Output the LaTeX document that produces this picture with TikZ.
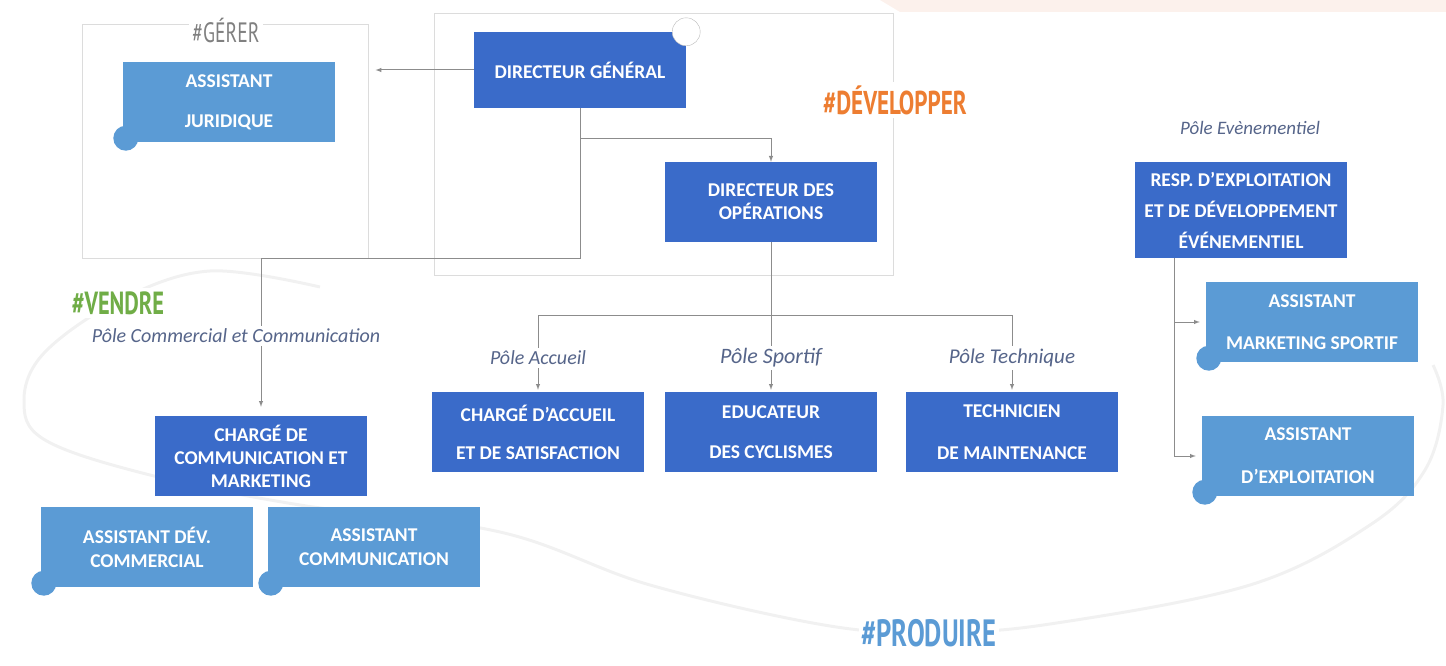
\documentclass[tikz,border=0pt]{standalone}
\usepackage{fontspec}
\setmainfont{Carlito}
\newfontfamily\tagfont[FakeStretch=0.7]{PT Sans}
\definecolor{dblue}{HTML}{3A6BC9}
\definecolor{lblue}{HTML}{5B9BD5}
\definecolor{linegray}{HTML}{8C8C8C}
\definecolor{framegray}{HTML}{DCDCDC}
\definecolor{polegray}{HTML}{56658A}
\definecolor{orangetag}{HTML}{ED7D31}
\definecolor{greentag}{HTML}{70AD47}
\definecolor{peach}{HTML}{FCF1EC}
\begin{document}
\begin{tikzpicture}[x=1pt, y=-1pt, >=latex,
      box/.style={rectangle, fill=dblue, text=white, minimum width=212pt, minimum height=80pt, inner sep=2pt, align=center, font=\fontsize{19.5}{23}\selectfont\bfseries},
      lbox/.style={box, fill=lblue},
      pole/.style={fill=white, inner sep=3pt, text=polegray, font=\fontsize{20}{24}\selectfont\itshape},
      tag/.style={fill=white, inner sep=3pt, font=\tagfont\bfseries\fontsize{32}{34}\selectfont},
      zone/.style={draw=framegray, line width=1pt, rectangle},
      link/.style={draw=linegray, line width=1pt}]
            \useasboundingbox (0,0) rectangle (1446,666);
            \fill[peach] (880,0) -- (1446,0) -- (1446,12) -- (900,12) -- cycle;
%           big arc round the poles
            \draw[gray!11, line width=3pt] plot[smooth, tension=0.6] coordinates {(320,287) (210,271) (120,300) (45,352) (24,400) (45,440) (150,475) (300,505) (500,532) (650,585) (830,626) (940,632) (1050,624) (1250,585) (1370,525) (1425,470) (1443,405) (1433,365)};
            \node[zone, minimum width=286pt, minimum height=233pt] (10) at (225,141.5) {};
            \node[zone, minimum width=459pt, minimum height=261pt] (20) at (663.5,144.5) {};
            \node[box, minimum height=76pt] (1) at (580,70) {DIRECTEUR GÉNÉRAL};
            \node[circle, draw=linegray!60, fill=white, minimum size=28pt, inner sep=0pt] (7) at (1.north east) {};
            \node[lbox] (11) at (229,102) {ASSISTANT\\[17pt]JURIDIQUE};
            \node[box] (2) at (771,202) {DIRECTEUR DES\\OPÉRATIONS};
            \node[box, minimum height=96pt] (3) at (1241,210) {RESP. D'EXPLOITATION\\[8pt]ET DE DÉVELOPPEMENT\\[8pt]ÉVÉNEMENTIEL};
            \node[lbox] (41) at (1312,322) {ASSISTANT\\[19pt]MARKETING SPORTIF};
            \node[lbox] (42) at (1308,456) {ASSISTANT\\[20pt]D'EXPLOITATION};
            \node[box] (21) at (538,432) {CHARGÉ D'ACCUEIL\\[15pt]ET DE SATISFACTION};
            \node[box] (22) at (771,432) {EDUCATEUR\\[17pt]DES CYCLISMES};
            \node[box] (23) at (1012,432) {TECHNICIEN\\[19pt]DE MAINTENANCE};
            \node[box] (31) at (261,456) {CHARGÉ DE\\COMMUNICATION ET\\MARKETING};
            \node[lbox] (32) at (147,547) {ASSISTANT DÉV.\\[1pt]COMMERCIAL};
            \node[lbox] (33) at (374,547) {ASSISTANT\\[1pt]COMMUNICATION};
            \foreach \n in {11,32,33,41,42} {
                \fill[lblue] ([xshift=3pt, yshift=4pt]\n.south west) circle (12.5);
                \fill[lblue] ([xshift=3pt, yshift=4pt]\n.south west) rectangle ++(12.5,-12.5);
            }
            \draw[link, ->, shorten >=7pt] (1.west) -- (1.west -| 10.east);
            \draw[link, ->] (1.south) -- ++(0,30) -| (2.north);
            \draw[link, ->, shorten >=9pt] (1.south) -- ++(0,150) -| (31.north);
            \draw[link, ->, shorten >=2pt] (2.south) -- ++(0,73) -| (21.north);
            \draw[link, ->, shorten >=2pt] (2.south) -- (22.north);
            \draw[link, ->, shorten >=2pt] (2.south) -- ++(0,73) -| (23.north);
            \draw[link, ->, shorten >=6pt] ([xshift=-67pt]3.south) |- (41.west);
            \draw[link, ->, shorten >=6pt] ([xshift=-67pt]3.south) |- (42.west);
            \node[pole] (51) at (538,358) {Pôle Accueil};
            \node[pole, font=\fontsize{22}{24}\selectfont\itshape] (52) at (771,358) {Pôle Sportif};
            \node[pole, font=\fontsize{21}{24}\selectfont\itshape] (53) at (1012,358) {Pôle Technique};
            \node[pole] (54) at (236,336) {Pôle Commercial et Communication};
            \node[pole, font=\fontsize{19}{22}\selectfont\itshape] (55) at (1250,128) {Pôle Evènementiel};
            \node[tag, text=gray, font=\tagfont\fontsize{28}{30}\selectfont] (61) at (226,30) {\#GÉRER};
            \node[tag, text=orangetag, font=\tagfont\bfseries\fontsize{33}{34}\selectfont] (62) at (895,100) {\#DÉVELOPPER};
            \node[tag, text=greentag] (63) at (118,303) {\#VENDRE};
            \node[tag, text=lblue, font=\tagfont\bfseries\fontsize{38}{40}\selectfont] (64) at (929,633) {\#PRODUIRE};
      \end{tikzpicture}
\end{document}
